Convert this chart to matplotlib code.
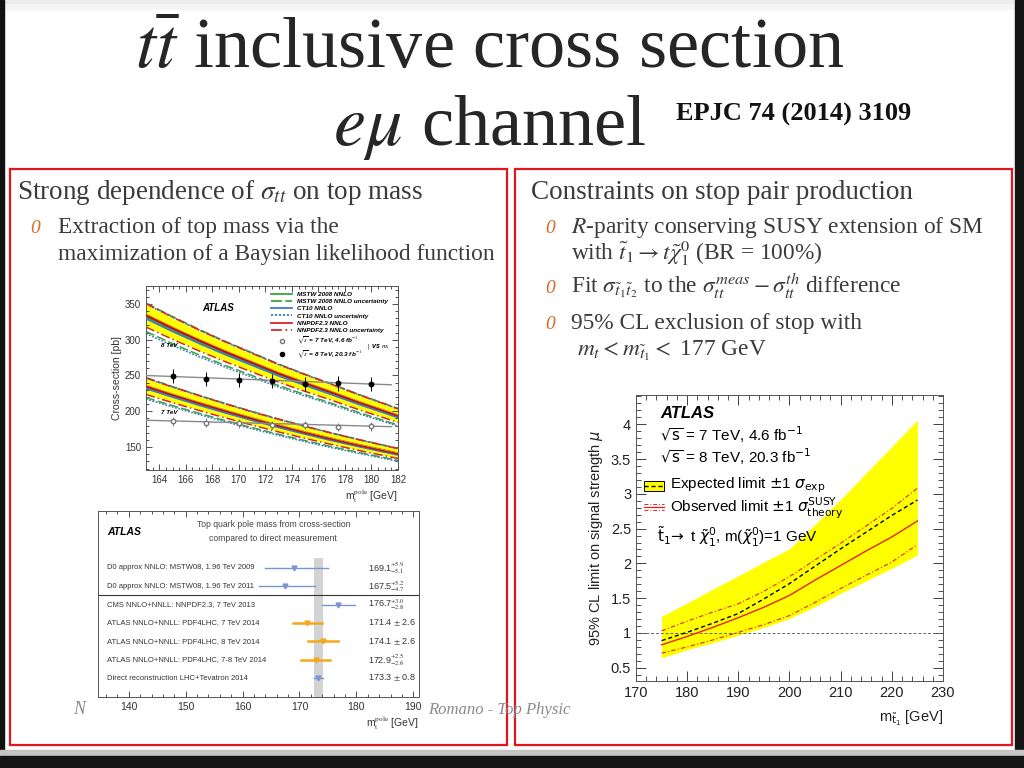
import numpy as np
import matplotlib
matplotlib.use("Agg")
import matplotlib.pyplot as plt
from matplotlib.patches import Rectangle
from matplotlib.lines import Line2D
from matplotlib.ticker import MultipleLocator

plt.rcParams['font.family'] = ['Liberation Sans', 'DejaVu Sans']
plt.rcParams['mathtext.fontset'] = 'stix'

W, H = 1024, 768

# ---- top left: ttbar cross-section vs top pole mass
mt_grid = [163, 165, 167, 169, 171, 173, 175, 177, 179, 182]
xsec8_theory = [334, 316, 299, 283, 268, 253, 239.5, 226.5, 213, 194]
xsec7_theory = [235, 223, 211.5, 200.5, 190, 180, 170.5, 161.5, 153, 141]
pdf_names = ['MSTW 2008 NNLO', 'CT10 NNLO', 'NNPDF2.3 NNLO']
pdf_colors = ['#3aa63a', '#3b7dc4', '#d8262c']
pdf_shift = [-0.008, -0.014, 0.0]   # central value relative to NNPDF
pdf_unc = [0.060, 0.063, 0.049]     # relative half width of uncertainty lines
band_rel = 0.045

mt_points = [165, 167.5, 170, 172.5, 175, 177.5, 180]
xsec8_meas = [249, 245, 244, 242, 238, 239, 238]
xsec8_err = [10, 10, 10, 10, 10, 10, 10]
xsec7_meas = [186, 184, 183, 181, 181, 178, 179]
xsec7_err = [6, 6, 6, 6, 6, 6, 6]
fit_mt = [163, 181.5]
fit8 = [250, 237]
fit7 = [187.5, 178.5]

# ---- bottom left: top pole mass summary
mass_labels = ['D0 approx NNLO: MSTW08, 1.96 TeV 2009',
               'D0 approx NNLO: MSTW08, 1.96 TeV 2011',
               'CMS NNLO+NNLL: NNPDF2.3, 7 TeV 2013',
               'ATLAS NNLO+NNLL: PDF4LHC, 7 TeV 2014',
               'ATLAS NNLO+NNLL: PDF4LHC, 8 TeV 2014',
               'ATLAS NNLO+NNLL: PDF4LHC, 7-8 TeV 2014',
               'Direct reconstruction LHC+Tevatron 2014']
mass_values = [169.1, 167.5, 176.7, 171.4, 174.1, 172.9, 173.3]
mass_err_up = [5.9, 5.2, 3.0, 2.6, 2.6, 2.5, 0.8]
mass_err_dn = [5.1, 4.7, 2.8, 2.6, 2.6, 2.6, 0.8]
mass_text = [r'169.1$^{+5.9}_{-5.1}$', r'167.5$^{+5.2}_{-4.7}$',
             r'176.7$^{+3.0}_{-2.8}$', '171.4 $\\pm$ 2.6', '174.1 $\\pm$ 2.6',
             r'172.9$^{+2.5}_{-2.6}$', '173.3 $\\pm$ 0.8']
mass_colors = ['#7b96cf', '#7b96cf', '#7b96cf', '#f5a81c', '#f5a81c', '#f5a81c', '#7b96cf']
direct_band = [172.5, 174.1]

# ---- right: stop limit
mstop = [175, 180, 185, 190, 195, 200, 205, 210, 215, 220, 225]
exp_limit = [0.89, 1.01, 1.14, 1.28, 1.49, 1.71, 1.96, 2.21, 2.45, 2.69, 2.91]
exp_up = [1.24, 1.43, 1.63, 1.82, 2.02, 2.21, 2.56, 2.92, 3.30, 3.68, 4.06]
exp_dn = [0.64, 0.76, 0.86, 0.97, 1.08, 1.21, 1.38, 1.57, 1.75, 1.93, 2.12]
obs_limit = [0.83, 0.95, 1.08, 1.22, 1.37, 1.54, 1.76, 1.97, 2.18, 2.38, 2.61]
obs_up = [1.03, 1.17, 1.30, 1.42, 1.60, 1.81, 2.05, 2.29, 2.54, 2.79, 3.08]
obs_dn = [0.71, 0.80, 0.90, 1.01, 1.12, 1.25, 1.44, 1.64, 1.83, 2.02, 2.27]


def px_axes(fig, x0, y0, x1, y1):
    return fig.add_axes([x0 / W, 1 - y1 / H, (x1 - x0) / W, (y1 - y0) / H])


def atlas_ticks(ax, size, major_len, minor_len):
    ax.tick_params(which='both', direction='in', top=True, right=True,
                   labelsize=size, width=0.6, colors='#333333')
    ax.tick_params(which='major', length=major_len)
    ax.tick_params(which='minor', length=minor_len)
    for s in ax.spines.values():
        s.set_linewidth(0.7)
        s.set_color('#555555')


fig = plt.figure(figsize=(W / 100, H / 100), dpi=100)

# slide background
bg = fig.add_axes([0, 0, 1, 1])
bg.set_xlim(0, W)
bg.set_ylim(H, 0)
bg.axis('off')
bg.add_patch(Rectangle((0, 0), W, H, color='white'))
bg.add_patch(Rectangle((0, 0), W, 4, color='#ececec'))
bg.add_patch(Rectangle((0, 4), W, 5, color='#f5f5f5'))
bg.add_patch(Rectangle((0, 0), 4, H, color='#111111'))
bg.add_patch(Rectangle((1015, 0), 9, H, color='#151515'))
bg.add_patch(Rectangle((0, 750), W, 6, color='#c4c4c4'))
bg.add_patch(Rectangle((0, 756), W, 12, color='#151515'))
bg.add_patch(Rectangle((10, 169), 497, 576, fill=False, edgecolor='#e3161d', lw=1.6))
bg.add_patch(Rectangle((515, 169), 497, 576, fill=False, edgecolor='#e3161d', lw=1.6))

serif = ['Liberation Serif', 'DejaVu Serif']
txt_col = '#3b3b3b'
bullet_col = '#cf6d2c'
bg.text(490, 68, r'$t\bar{t}$ inclusive cross section', fontsize=52, family=serif,
        color='#262626', ha='center', va='baseline')
bg.text(333, 145, r'$e\mu$ channel', fontsize=52, family=serif,
        color='#262626', ha='left', va='baseline')
bg.text(676, 121, 'EPJC 74 (2014) 3109', fontsize=19, family=serif,
        weight='bold', color='#111111', va='baseline')

bg.text(17, 199, r'Strong dependence of $\sigma_{tt}$ on top mass', fontsize=19.5,
        family=serif, color=txt_col, va='baseline')
bg.text(531, 199, 'Constraints on stop pair production', fontsize=19.5,
        family=serif, color=txt_col, va='baseline')
for bx, by in [(30, 233), (545, 233), (545, 293), (545, 329)]:
    bg.text(bx, by, '0', fontsize=14, family=serif, style='italic',
            color=bullet_col, va='baseline')
lines = [(58, 233, 'Extraction of top mass via the'),
         (58, 260, 'maximization of a Baysian likelihood function'),
         (571, 233, '$R$-parity conserving SUSY extension of SM'),
         (571, 260, r'with $\tilde{t}_1 \rightarrow t\tilde{\chi}_1^0$ (BR = 100%)'),
         (571, 293, r'Fit $\sigma_{\tilde{t}_1\tilde{t}_2}$ to the $\sigma_{tt}^{meas} - \sigma_{tt}^{th}$ difference'),
         (571, 329, '95% CL exclusion of stop with'),
         (577, 356, r'$m_t < m_{\tilde{t}_1} <$ 177 GeV')]
for lx, ly, s in lines:
    bg.text(lx, ly, s, fontsize=16.8, family=serif, color=txt_col, va='baseline')

bg.text(73, 714, 'N', fontsize=13, family=serif, style='italic', color='#8a8a8a', va='baseline')
bg.text(428, 714, 'Romano - Top Physic', fontsize=12, family=serif, style='italic',
        color='#8a8a8a', va='baseline')

# ---------------- top left plot
ax1 = px_axes(fig, 146, 286, 398, 470)
mt = np.array(mt_grid)
for central in [np.array(xsec8_theory), np.array(xsec7_theory)]:
    ax1.fill_between(mt, central * (1 - band_rel), central * (1 + band_rel),
                     color='#ffff00', lw=0, zorder=1)
    for name, col, sh, unc in zip(pdf_names, pdf_colors, pdf_shift, pdf_unc):
        c = central * (1 + sh)
        ls = {'MSTW 2008 NNLO': (0, (6, 2)), 'CT10 NNLO': (0, (1.2, 1)),
              'NNPDF2.3 NNLO': (0, (6, 2, 1, 2))}[name]
        ax1.plot(mt, c, color=col, lw=1.3, zorder=3)
        ax1.plot(mt, c * (1 + unc), color=col, lw=1.1, ls=ls, zorder=2)
        ax1.plot(mt, c * (1 - unc), color=col, lw=1.1, ls=ls, zorder=2)
    ax1.plot(mt, central, color='#b8141b', lw=1.6, zorder=4)
    ax1.plot(mt, central * 1.007, color='#e8a020', lw=0.6, zorder=4)

ax1.plot(fit_mt, fit8, color='#8a8a8a', lw=1.0, zorder=5)
ax1.plot(fit_mt, fit7, color='#8a8a8a', lw=1.0, zorder=5)
ax1.errorbar(mt_points, xsec8_meas, yerr=xsec8_err, fmt='o', color='black', ms=3.2,
             elinewidth=0.7, capsize=0, zorder=6)
ax1.errorbar(mt_points, xsec7_meas, yerr=xsec7_err, fmt='o', mfc='white', mec='#777777',
             ecolor='#777777', ms=3.2, elinewidth=0.7, capsize=0, zorder=6)
ax1.set_xlim(163, 182)
ax1.set_ylim(118, 375)
ax1.xaxis.set_major_locator(MultipleLocator(2))
ax1.xaxis.set_minor_locator(MultipleLocator(0.5))
ax1.yaxis.set_major_locator(MultipleLocator(50))
ax1.yaxis.set_minor_locator(MultipleLocator(10))
atlas_ticks(ax1, 7, 4, 2)
ax1.set_ylabel('Cross-section [pb]', fontsize=7.5, color='#333333', labelpad=2)
ax1.set_xlabel(r'm$_{\mathrm{t}}^{\mathrm{pole}}$ [GeV]', fontsize=7.5, color='#333333',
               loc='right', labelpad=2)
ax1.text(167.2, 340, 'ATLAS', fontsize=7, weight='bold', style='italic')
ax1.text(164.1, 290, '8 TeV', fontsize=4.5, weight='bold', style='italic')
ax1.text(164.1, 196, '7 TeV', fontsize=4.5, weight='bold', style='italic')

handles, labels = [], []
for name, col, ls in zip(pdf_names, pdf_colors,
                         [(0, (6, 2)), (0, (1.2, 1)), (0, (6, 2, 1, 2))]):
    handles.append(Line2D([], [], color=col, lw=1.3))
    labels.append(name)
    handles.append(Line2D([], [], color=col, lw=1.3, ls=ls))
    labels.append(name + ' uncertainty')
handles.append(Line2D([], [], ls='', marker='o', mfc='white', mec='#777777', ms=3))
labels.append(r'$\sqrt{s}$ = 7 TeV, 4.6 fb$^{-1}$')
handles.append(Line2D([], [], ls='', marker='o', color='black', ms=3))
labels.append(r'$\sqrt{s}$ = 8 TeV, 20.3 fb$^{-1}$')
leg = ax1.legend(handles, labels, loc='upper left', bbox_to_anchor=(0.48, 0.995),
                 frameon=False, handlelength=3.2, labelspacing=0.28,
                 borderpad=0.2, prop={'style': 'italic', 'weight': 'bold', 'size': 4.6})
ax1.text(179.6, 289, r'$\}$ vs $m_t$', fontsize=5, style='italic', weight='bold')

# ---------------- bottom left plot
ax2 = px_axes(fig, 98, 511, 419, 697)
rows = np.arange(len(mass_values))
ax2.fill_betweenx([-0.53, 7.1], direct_band[0], direct_band[1], color='#d3d3d3', lw=0)
ax2.axhline(1.5, color='#333333', lw=0.8)
for r, v, eu, ed, col in zip(rows, mass_values, mass_err_up, mass_err_dn, mass_colors):
    lw = 1.8 if col == '#f5a81c' else 1.0
    ax2.plot([v - ed, v + eu], [r, r], color=col, lw=lw)
    ax2.plot(v, r, marker='v', color=col, ms=3.5)
for r, lab, t in zip(rows, mass_labels, mass_text):
    ax2.text(136.2, r, lab, fontsize=5.5, va='center', color='#333333')
    ax2.text(182.1, r, t, fontsize=6.5, va='center', color='#333333')
ax2.text(165.4, -2.39, 'Top quark pole mass from cross-section', fontsize=6.2,
         ha='center', va='center', color='#444444')
ax2.text(165.4, -1.61, 'compared to direct measurement', fontsize=6.2,
         ha='center', va='center', color='#444444')
ax2.text(136.2, -1.97, 'ATLAS', fontsize=7.5, weight='bold', style='italic', va='center')
ax2.set_xlim(134.6, 191)
ax2.set_ylim(7.03, -3.1)
ax2.set_yticks([])
ax2.xaxis.set_major_locator(MultipleLocator(10))
ax2.xaxis.set_minor_locator(MultipleLocator(2))
atlas_ticks(ax2, 7.5, 4, 2)
ax2.tick_params(right=False, left=False)
ax2.set_xlabel(r'm$_{\mathrm{t}}^{\mathrm{pole}}$ [GeV]', fontsize=7.5, color='#333333',
               loc='right', labelpad=2)

# ---------------- right plot
ax3 = px_axes(fig, 636, 395, 943, 681)
ax3.fill_between(mstop, exp_dn, exp_up, color='#ffff00', lw=0)
ax3.axhline(1, color='#666666', lw=0.7, ls=(0, (3, 2)))
ax3.plot(mstop, exp_limit, color='black', lw=1.0, ls=(0, (3, 2)))
ax3.plot(mstop, obs_limit, color='#e8211b', lw=1.0)
ax3.plot(mstop, obs_up, color='#e8211b', lw=0.8, ls=(0, (4, 2, 1, 2)))
ax3.plot(mstop, obs_dn, color='#e8211b', lw=0.8, ls=(0, (4, 2, 1, 2)))
ax3.set_xlim(170, 230)
ax3.set_ylim(0.31, 4.42)
ax3.xaxis.set_major_locator(MultipleLocator(10))
ax3.xaxis.set_minor_locator(MultipleLocator(2))
ax3.yaxis.set_major_locator(MultipleLocator(0.5))
ax3.yaxis.set_minor_locator(MultipleLocator(0.1))
atlas_ticks(ax3, 10.5, 7, 3.5)
ax3.tick_params(colors='#222222')
ax3.set_yticks([0.5, 1, 1.5, 2, 2.5, 3, 3.5, 4])
ax3.set_yticklabels(['0.5', '1', '1.5', '2', '2.5', '3', '3.5', '4'])
ax3.set_ylabel(r'95% CL limit on signal strength $\mu$', fontsize=10.5, color='#222222',
               labelpad=4, math_fontfamily='dejavusans')
ax3.set_xlabel(r'm$_{\tilde{\mathrm{t}}_1}$ [GeV]', fontsize=10.5, color='#222222',
               loc='right', labelpad=6, math_fontfamily='dejavusans')
ax3.text(174.7, 4.16, 'ATLAS', fontsize=12, weight='bold', style='italic', va='center')
ax3.text(174.6, 3.85, r'$\sqrt{\mathrm{s}}$ = 7 TeV, 4.6 fb$^{\mathrm{-1}}$', fontsize=11,
         va='center', math_fontfamily='dejavusans')
ax3.text(174.6, 3.53, r'$\sqrt{\mathrm{s}}$ = 8 TeV, 20.3 fb$^{\mathrm{-1}}$', fontsize=11,
         va='center', math_fontfamily='dejavusans')
ax3.add_patch(Rectangle((171.5, 3.04), 3.9, 0.15, facecolor='#ffff00', edgecolor='black', lw=0.7))
ax3.plot([171.5, 175.4], [3.115, 3.115], color='black', lw=1.0, ls=(0, (3, 2)))
ax3.plot([171.5, 175.4], [2.85, 2.85], color='#e8211b', lw=0.7, ls=(0, (4, 2, 1, 2)))
ax3.plot([171.5, 175.4], [2.81, 2.81], color='#e8211b', lw=0.9)
ax3.plot([171.5, 175.4], [2.77, 2.77], color='#e8211b', lw=0.7, ls=(0, (4, 2, 1, 2)))
ax3.text(176.7, 3.12, r'Expected limit $\pm$1 $\sigma_{\mathrm{exp}}$', fontsize=11,
         va='center', math_fontfamily='dejavusans')
ax3.text(176.7, 2.79, r'Observed limit $\pm$1 $\sigma_{\mathrm{theory}}^{\mathrm{SUSY}}$', fontsize=11,
         va='center', math_fontfamily='dejavusans')
ax3.text(174.1, 2.38, r'$\tilde{\mathrm{t}}_1\!\rightarrow$ t $\tilde{\chi}_1^0$, m($\tilde{\chi}_1^0$)=1 GeV',
         fontsize=11, va='center', math_fontfamily='dejavusans')

fig.savefig('out.png', dpi=100)
